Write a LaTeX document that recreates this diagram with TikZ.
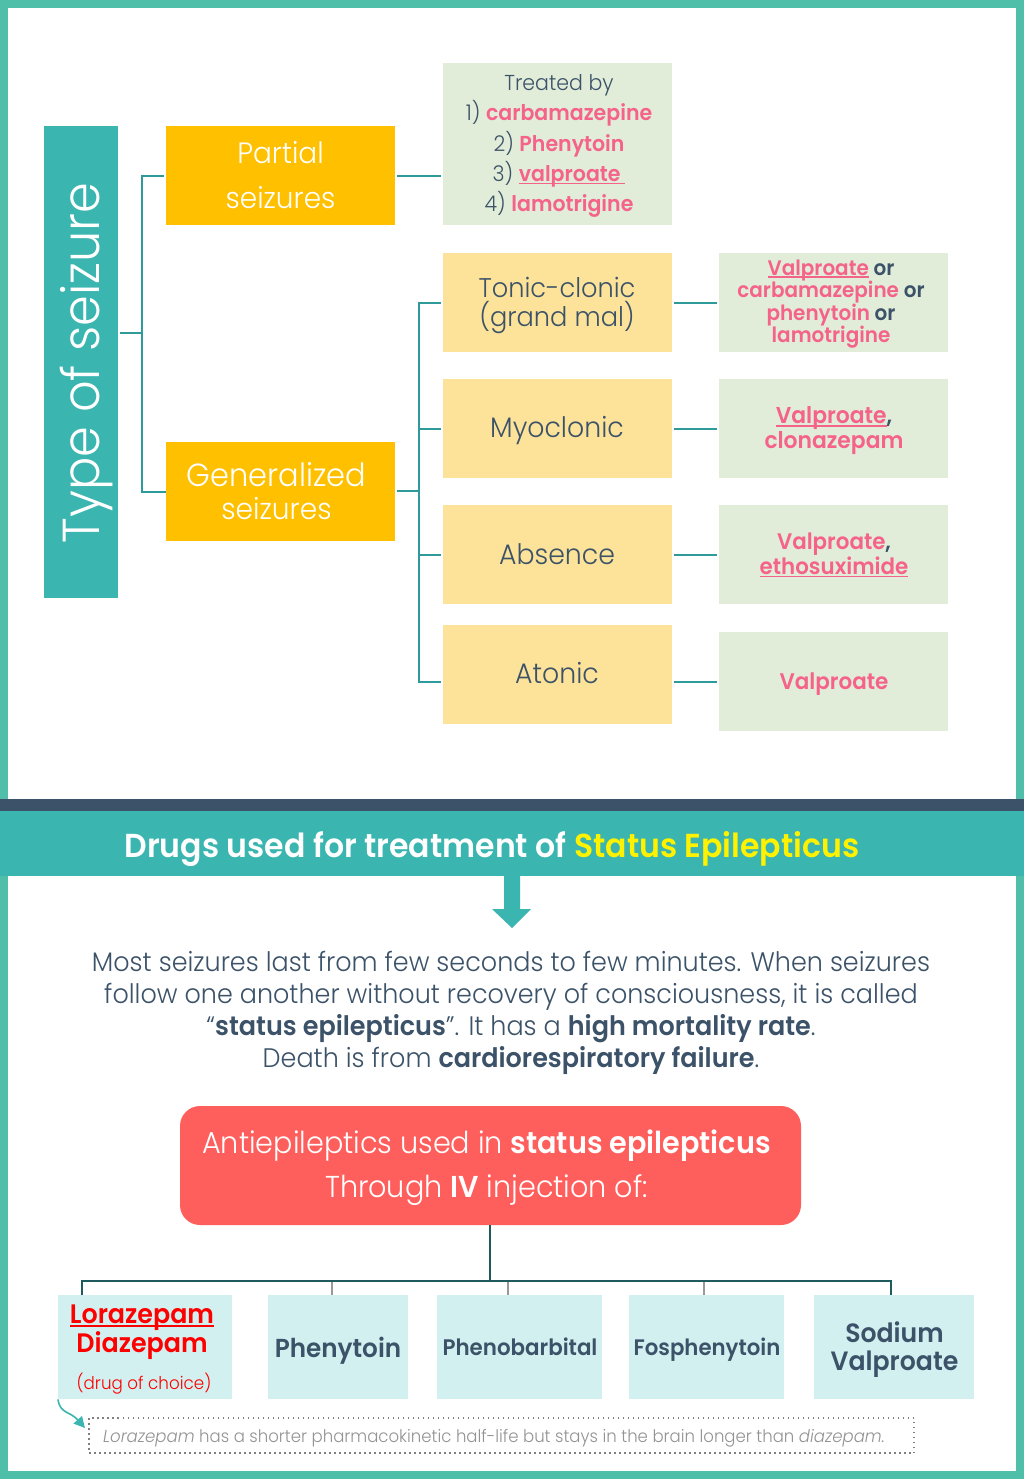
\documentclass[tikz,border=0pt]{standalone}
\usepackage{fontspec}
\setmainfont{Poppins Light}[FakeStretch=0.95,BoldFont={Poppins SemiBold},ItalicFont={Poppins Light Italic}]
\usetikzlibrary{arrows.meta}
\definecolor{frame}{HTML}{50BFA9}
\definecolor{teal}{HTML}{3AB5B0}
\definecolor{navy}{HTML}{3B5268}
\definecolor{amber}{HTML}{FFC000}
\definecolor{sand}{HTML}{FDE399}
\definecolor{sage}{HTML}{E1EDD9}
\definecolor{pinkd}{HTML}{F5628A}
\definecolor{coral}{HTML}{FF5F5C}
\definecolor{aqua}{HTML}{D2F0EF}
\definecolor{deep}{HTML}{1F5A5E}
\definecolor{conn}{HTML}{2F9A9A}
\newcommand{\fs}[2]{\fontsize{#1pt}{#2pt}\selectfont\lineskiplimit=-100pt }
\newcommand{\pk}[1]{\textcolor{pinkd}{\textbf{#1}}}
\newcommand{\ull}[1]{\setbox0=\hbox{#1}\rlap{\rule[-.12em]{\wd0}{.065em}}\box0 }
\tikzset{
 x=1pt,y=-1pt,
 boxn/.style={inner sep=0pt,align=center,text=navy},
 linkl/.style={draw=conn,line width=1.8pt},
 tree/.style={draw=deep,line width=2pt},
 treeg/.style={draw=gray!80,line width=1.2pt},
}
\newcommand{\bx}[6]{\node[boxn,fill=#1,minimum width=#4pt-#3pt,minimum height=#6pt-#5pt,anchor=north west] (#2) at (#3,#5) {};}
\begin{document}
\begin{tikzpicture}
\useasboundingbox (0,0) rectangle (1024,1479);
\fill[white] (0,0) rectangle (1024,1479);
\draw[frame,line width=8pt] (4,4) rectangle (1020,1475);
% top boxes
\bx{teal}{title}{44}{118}{126}{598}
\bx{amber}{partial}{166}{395}{126}{225}
\bx{amber}{gen}{166}{395}{442}{541}
\bx{sage}{treat}{443}{672}{63}{225}
\bx{sand}{tonic}{443}{672}{253}{352}
\bx{sand}{myo}{443}{672}{379}{478}
\bx{sand}{abs}{443}{672}{505}{604}
\bx{sand}{ato}{443}{672}{625}{724}
\bx{sage}{rtonic}{719}{948}{253}{352}
\bx{sage}{rmyo}{719}{948}{379}{478}
\bx{sage}{rabs}{719}{948}{505}{604}
\bx{sage}{rato}{719}{948}{632}{731}
\node[rotate=90,text=white,font=\fs{52}{52}] (titlet) at (87,363) {Type of seizure};
\node[boxn,text=white,font=\fs{29.4}{45}] (partialt) at (280.5,175) {Partial\\seizures};
\node[boxn,text=white,font=\fs{32}{33}] (gent) at (276.5,491) {Generalized\\{\fs{29.5}{33}seizures}};
\node[boxn,font=\fs{21.6}{30.3}] (treatt) at (559,146) {Treated by\\1) \pk{carbamazepine}\\2) \pk{Phenytoin}\\3) \pk{\ull{valproate\ }}\\4) \pk{lamotrigine}};
\node[boxn,font=\fs{27}{29}] (tonict) at (557,305) {Tonic-clonic\\(grand mal)};
\node[boxn,font=\fs{28.2}{29}] (myot) at (557,431) {Myoclonic};
\node[boxn,font=\fs{28.2}{29}] (abst) at (557,554) {Absence};
\node[boxn,font=\fs{28.2}{29}] (atot) at (557,673) {Atonic};
\node[boxn,font=\fs{21}{22.5}] (rtonict) at (831,304) {\textbf{\pk{\ull{Valproate}} or}\\\textbf{\pk{carbamazepine} or}\\\textbf{\pk{phenytoin} or}\\\pk{lamotrigine}};
\node[boxn,font=\fs{23}{25}] (rmyot) at (834,431) {\textbf{\pk{\ull{Valproate}},}\\\pk{clonazepam}};
\node[boxn,font=\fs{22.5}{25}] (rabst) at (834,555) {\textbf{\pk{Valproate},}\\\pk{\ull{ethosuximide}}};
\node[boxn,font=\fs{22.6}{25}] (ratot) at (834,684) {\pk{Valproate}};
% top connectors
\coordinate (j1) at (142,333);
\draw[linkl] (title.east|-j1) ++(2,0) -- (j1);
\draw[linkl] (partial.west) ++(-2,0) -| (j1) |- (gen.west);
\draw[linkl] (partial.east) ++(2,0) -- ++(44,0);
\coordinate (j2) at (419,491);
\draw[linkl] (gen.east|-j2) ++(2,0) -- (j2);
\draw[linkl] (tonic.west) ++(-2,0) -| (j2);
\draw[linkl] (ato.west|-rato.west) ++(-2,0) -| (j2);
\draw[linkl] (myo.west) ++(-2,0) -- (myo.west-|j2);
\draw[linkl] (abs.west) ++(-2,0) -- (abs.west-|j2);
\draw[linkl,shorten >=2pt] (tonic.east) ++(2,0) -- (rtonic.west);
\draw[linkl,shorten >=2pt] (myo.east) ++(2,0) -- (rmyo.west);
\draw[linkl,shorten >=2pt] (abs.east) ++(2,0) -- (rabs.west);
\draw[linkl,shorten >=2pt] (ato.east|-rato.west) ++(2,0) -- (rato.west);
% band
\fill[navy] (0,799) rectangle (1024,811);
\fill[teal] (0,811) rectangle (1024,876);
\node[boxn,text=white,font=\fs{33.2}{34}\bfseries] (band) at (492,849) {Drugs used for treatment of \textcolor{yellow}{Status Epilepticus}};
\fill[teal] (504,876) -- (520,876) -- (520,909) -- (531,909) -- (512,928) -- (492,909) -- (504,909) -- cycle;
\node[boxn,font=\fs{26.8}{32}] (para) at (511,1013) {Most seizures last from few seconds to few minutes. When seizures\\follow one another without recovery of consciousness, it is called\\“\textbf{status epilepticus}”. It has a \textbf{high mortality rate}.\\Death is from \textbf{cardiorespiratory failure}.};
\node[fill=coral,rounded corners=20pt,minimum width=621pt,minimum height=119pt,inner sep=0pt] (anti) at (490.5,1165.5) {};
\node[boxn,text=white,font=\fs{30.2}{44}] (antit) at (486.5,1168) {Antiepileptics used in \textbf{status epilepticus}\\Through \textbf{IV} injection of:};
\bx{aqua}{lor}{58}{232}{1295}{1399}
\bx{aqua}{phe}{268}{408}{1295}{1399}
\bx{aqua}{pheno}{437}{602}{1295}{1399}
\bx{aqua}{fos}{629}{784}{1295}{1399}
\bx{aqua}{sod}{814}{974}{1295}{1399}
\node[boxn,text=red,font=\fs{26.7}{29}\bfseries] (lort) at (142,1332) {\ull{Lorazepam}\\Diazepam};
\node[boxn,text=red,font=\fs{17.6}{20}] (lors) at (144,1384) {(drug of choice)};
\node[boxn,font=\fs{26}{29}\bfseries] (phet) at (338,1351) {Phenytoin};
\node[boxn,font=\fs{22.5}{25}\bfseries] (phenot) at (520,1347) {Phenobarbital};
\node[boxn,font=\fs{22.4}{25}\bfseries] (fost) at (707,1350) {Fosphenytoin};
\node[boxn,font=\fs{26.5}{28}\bfseries] (sodt) at (894.5,1350) {Sodium\\Valproate};
% tree
\coordinate (t0) at (490,1281);
\coordinate (c1) at (332,1281);
\coordinate (c2) at (508,1281);
\coordinate (c3) at (704,1281);
\draw[treeg] (c1) -- (c1|-lor.north);
\draw[treeg] (c2) -- (c2|-lor.north);
\draw[treeg] (c3) -- (c3|-lor.north);
\draw[tree] (t0|-anti.south) -- (t0);
\coordinate (c0) at (82,1295);
\coordinate (c4) at (891,1295);
\draw[tree] (c0) |- (t0) -| (c4);
% note
\node[draw=gray,dash pattern=on 1.5pt off 3.5pt,line width=1.4pt,minimum width=825pt,minimum height=35pt,inner sep=0pt] (note) at (501.5,1435.5) {};
\node[boxn,text=gray!85,font=\fs{17.4}{20}] (notet) at (494,1438) {\textit{Lorazepam} has a shorter pharmacokinetic half-life but stays in the brain longer than \textit{diazepam.}};
\coordinate (c5) at (85,1428);
\draw[teal,line width=1.6pt,-{Triangle[length=11pt,width=11pt]}] (lor.south west) .. controls (60,1414) and (70,1411) .. (c5);
\end{tikzpicture}
\end{document}
